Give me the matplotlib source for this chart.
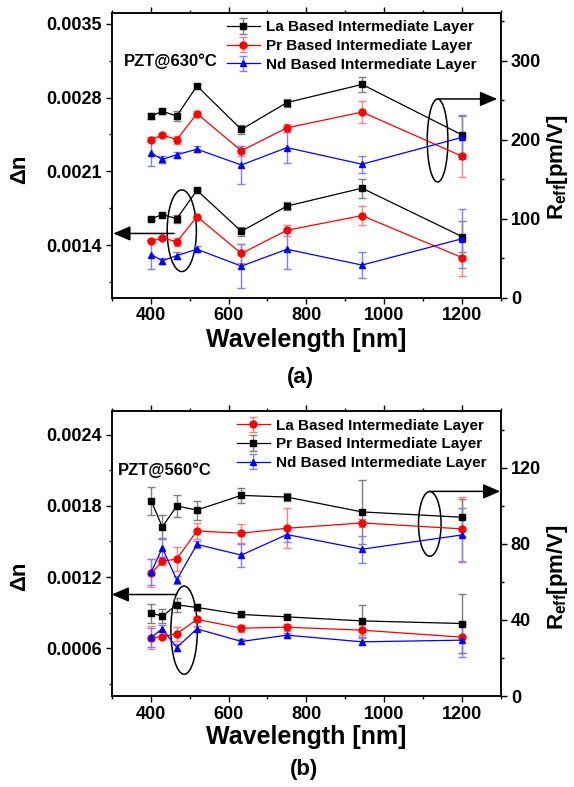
import matplotlib
matplotlib.use("Agg")
import matplotlib.pyplot as plt
from matplotlib.patches import Ellipse
from matplotlib.ticker import MultipleLocator, FormatStrFormatter

plt.rcParams['font.family'] = ['Liberation Sans', 'DejaVu Sans']
plt.rcParams['font.weight'] = 'bold'
plt.rcParams['mathtext.fontset'] = 'custom'
plt.rcParams['mathtext.rm'] = 'Liberation Sans:bold'
plt.rcParams['mathtext.it'] = 'Liberation Sans:bold'
plt.rcParams['mathtext.bf'] = 'Liberation Sans:bold'

# wavelengths (nm)
wl = [402, 430, 467, 519, 633, 750, 943, 1200]

# panel (a): PZT@630°C
a_la_r = [230, 236, 230, 268, 213, 247, 270, 206]
a_la_r_err = [4, 3, 6, 3, 6, 5, 9, 24]
a_pr_r = [200, 206, 200, 233, 186, 215, 235, 179]
a_pr_r_err = [3, 2, 5, 3, 6, 5, 14, 26]
a_nd_r = [183, 175, 181, 188, 168, 190, 169, 203]
a_nd_r_err = [16, 4, 4, 4, 24, 20, 11, 28]

a_la_dn = [0.00165, 0.00169, 0.00165, 0.00192, 0.00153, 0.00177, 0.00194, 0.00148]
a_la_dn_err = [0.00001, 0.00001, 0.00004, 0.00001, 0.00004, 0.00004, 0.00009, 0.00015]
a_pr_dn = [0.00144, 0.00147, 0.00143, 0.00167, 0.00132, 0.00154, 0.00168, 0.00128]
a_pr_dn_err = [0.00001, 0.00001, 0.00004, 0.00001, 0.00009, 0.00005, 0.00009, 0.00017]
a_nd_dn = [0.00131, 0.00125, 0.00130, 0.00136, 0.00120, 0.00136, 0.00121, 0.00146]
a_nd_dn_err = [0.00014, 0.00003, 0.00003, 0.00003, 0.00021, 0.00019, 0.00012, 0.00028]

# panel (b): PZT@560°C
b_la_r = [64.6, 70.9, 72.0, 86.8, 85.6, 88.2, 91.0, 87.9]
b_la_r_err = [7.5, 2, 6.5, 4, 5, 10.5, 2, 17]
b_pr_r = [102.4, 88.9, 99.9, 97.8, 105.5, 104.6, 96.8, 94.0]
b_pr_r_err = [7.3, 6.2, 6, 5, 4, 2, 16.8, 9.6]
b_nd_r = [65.3, 77.9, 61.1, 79.7, 74.1, 84.9, 77.2, 84.7]
b_nd_r_err = [7, 5, 2, 2, 6, 4, 7, 14]

b_la_dn = [0.000692, 0.000698, 0.000723, 0.000844, 0.000771, 0.000779, 0.000754, 0.000695]
b_la_dn_err = [0.0001, 0.00001, 0.00006, 0.00002, 0.00003, 0.00003, 0.00004, 0.00013]
b_pr_dn = [0.000897, 0.000872, 0.000967, 0.000945, 0.000886, 0.000866, 0.000832, 0.00081]
b_pr_dn_err = [0.00008, 0.000056, 0.000056, 0.00003, 0.00002, 0.00002, 0.000135, 0.00025]
b_nd_dn = [0.000695, 0.000765, 0.000608, 0.000765, 0.000659, 0.000712, 0.000656, 0.00067]
b_nd_dn_err = [0.00008, 0.00003, 0.00003, 0.00002, 0.00002, 0.00002, 0.00003, 0.00014]

labels_a = ["La Based Intermediate Layer", "Pr Based Intermediate Layer", "Nd Based Intermediate Layer"]
labels_b = ["La Based Intermediate Layer", "Pr Based Intermediate Layer", "Nd Based Intermediate Layer"]

BLACK = ('black', '#7f7f7f')
RED = ('red', '#ff8080')
BLUE = ('blue', '#7f7fff')


def series(ax, y, err, col, marker, label=None):
    line, ecol = col
    ax.errorbar(wl, y, yerr=err, color=line, ecolor=ecol, elinewidth=1,
                capsize=3, capthick=1, lw=0.9, marker=marker, ms=5,
                label=label)


def style_axes(ax, ax2, ylim, ymaj, rlim, rmaj):
    ax.set_xlim(300, 1300)
    ax.set_ylim(*ylim)
    ax2.set_ylim(*rlim)
    ax.xaxis.set_major_locator(MultipleLocator(200))
    ax.xaxis.set_minor_locator(MultipleLocator(100))
    ax.yaxis.set_major_locator(MultipleLocator(ymaj))
    ax.yaxis.set_minor_locator(MultipleLocator(ymaj / 2))
    ax.yaxis.set_major_formatter(FormatStrFormatter('%.4f'))
    ax2.yaxis.set_major_locator(MultipleLocator(rmaj))
    ax2.yaxis.set_minor_locator(MultipleLocator(rmaj / 2))
    for a in (ax, ax2):
        for s in a.spines.values():
            s.set_linewidth(1.1)
        a.tick_params(which='major', length=4, width=1, labelsize=13, pad=3)
        a.tick_params(which='minor', length=2.5, width=1)
    ax.tick_params(axis='x', which='both', top=True)
    for lab in ax.get_xticklabels() + ax.get_yticklabels() + ax2.get_yticklabels():
        lab.set_fontweight('bold')


def arrow(ax, x0, x1, y):
    ax.annotate('', xy=(x1, y), xytext=(x0, y),
                arrowprops=dict(arrowstyle='-|>,head_length=0.7,head_width=0.3',
                                color='black', lw=1.1, shrinkA=0, shrinkB=0,
                                mutation_scale=15), annotation_clip=False)


fig = plt.figure(figsize=(5.74, 7.87), dpi=100)

# ---------------- panel (a)
ax = fig.add_axes([0.1946, 0.6217, 0.6783, 0.3614])
ax2 = ax.twinx()
series(ax, a_la_dn, a_la_dn_err, BLACK, 's')
series(ax, a_pr_dn, a_pr_dn_err, RED, 'o')
series(ax, a_nd_dn, a_nd_dn_err, BLUE, '^')
series(ax2, a_la_r, a_la_r_err, BLACK, 's', labels_a[0])
series(ax2, a_pr_r, a_pr_r_err, RED, 'o', labels_a[1])
series(ax2, a_nd_r, a_nd_r_err, BLUE, '^', labels_a[2])
style_axes(ax, ax2, (0.0009, 0.0036), 0.0007, (0, 360), 100)

ax2.add_patch(Ellipse((1137, 199), 53, 105, fill=False, lw=1.1, ec='black'))
arrow(ax2, 1137, 1290, 251.6)
ax.add_patch(Ellipse((480, 0.001536), 75, 0.000775, fill=False, lw=1.1, ec='black'))
arrow(ax, 460, 304, 0.00151)

ax2.legend(loc='upper left', bbox_to_anchor=(0.295, 0.975), frameon=False,
           handlelength=2.2, handletextpad=0.35, borderpad=0,
           borderaxespad=0, labelspacing=0.3,
           prop={'weight': 'bold', 'size': 11})
ax.text(0.03, 0.83, "PZT@630°C", transform=ax.transAxes, fontsize=12,
        fontweight='bold', va='center', ha='left')

# ---------------- panel (b)
bx = fig.add_axes([0.1946, 0.1156, 0.6783, 0.3625])
bx2 = bx.twinx()
series(bx, b_la_dn, b_la_dn_err, RED, 'o')
series(bx, b_pr_dn, b_pr_dn_err, BLACK, 's')
series(bx, b_nd_dn, b_nd_dn_err, BLUE, '^')
series(bx2, b_la_r, b_la_r_err, RED, 'o', labels_b[0])
series(bx2, b_pr_r, b_pr_r_err, BLACK, 's', labels_b[1])
series(bx2, b_nd_r, b_nd_r_err, BLUE, '^', labels_b[2])
style_axes(bx, bx2, (0.0002, 0.0026), 0.0006, (0, 150), 40)

bx2.add_patch(Ellipse((1117, 90.5), 58, 34, fill=False, lw=1.1, ec='black'))
arrow(bx2, 1117, 1298, 107.6)
bx.add_patch(Ellipse((486, 0.000754), 68, 0.000742, fill=False, lw=1.1, ec='black'))
arrow(bx, 467, 300, 0.001054)

bx2.legend(loc='upper left', bbox_to_anchor=(0.321, 0.972), frameon=False,
           handlelength=2.2, handletextpad=0.35, borderpad=0,
           borderaxespad=0, labelspacing=0.3,
           prop={'weight': 'bold', 'size': 11})
bx.text(0.015, 0.79, "PZT@560°C", transform=bx.transAxes, fontsize=12,
        fontweight='bold', va='center', ha='left')

# ---------------- labels
for yc in (0.785, 0.268):
    fig.text(0.035, yc, "Δn", rotation=90, ha='center', va='center',
             fontsize=16, fontweight='bold')
for yc in (0.788, 0.267):
    fig.text(0.972, yc, r"R$_{\rm eff}$[pm/V]", rotation=90, ha='center',
             va='center', fontsize=16, fontweight='bold')
fig.text(0.533, 0.568, "Wavelength [nm]", ha='center', va='center',
         fontsize=18, fontweight='bold')
fig.text(0.533, 0.0635, "Wavelength [nm]", ha='center', va='center',
         fontsize=18, fontweight='bold')
fig.text(0.523, 0.52, "(a)", ha='center', va='center', fontsize=16, fontweight='bold')
fig.text(0.53, 0.022, "(b)", ha='center', va='center', fontsize=16, fontweight='bold')

fig.savefig("out.png", dpi=100)
